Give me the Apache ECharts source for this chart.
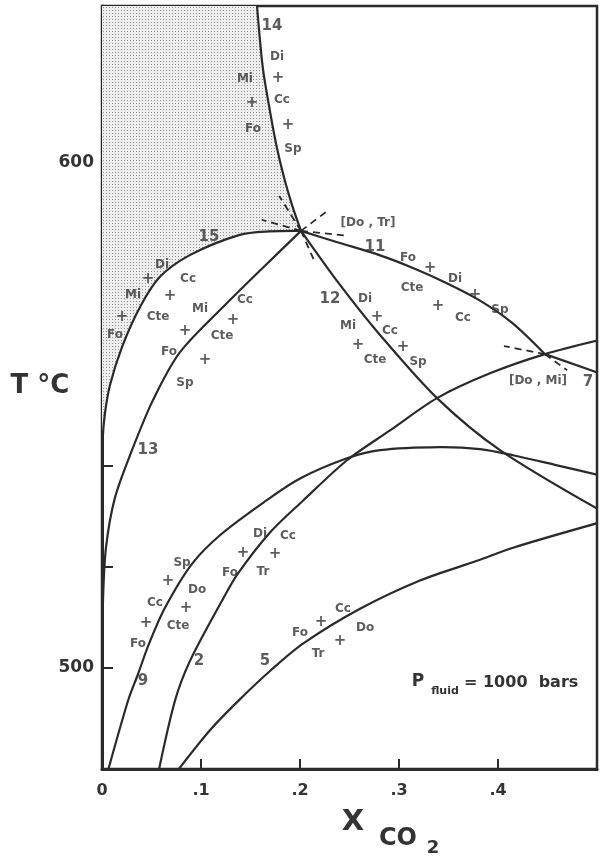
<!DOCTYPE html>
<html><head><meta charset="utf-8">
<script src="https://cdn.jsdelivr.net/npm/echarts@6/dist/echarts.min.js"></script>
<style>html,body{margin:0;padding:0;background:#fff}#c{width:607px;height:856px}</style>
</head><body><div id="c"></div>
<script>
// ---- data (x = mole fraction CO2, T = °C) ----
const xTickLabels = ['0', '.1', '.2', '.3', '.4'];
const yTickLabels = { 500: '500', 600: '600' };
const I1 = [0.201, 586.5];   // [Do,Tr]
const I2 = [0.4475, 562.1];  // [Do,Mi]
const curve14 = [[0.1563, 631.7], [0.1623, 619.0], [0.1694, 610.5], [0.1764, 603.2], [0.1845, 596.6], [0.1925, 591.3], I1];
const curve15 = [I1, [0.1694, 586.4], [0.1391, 585.7], [0.0887, 581.7], [0.0585, 577.4], [0.0383, 571.4], [0.0202, 563.5], [0.0081, 556.0], [0.0030, 550.4], [0.0006, 545.0], [0.0002, 538.0]];
const curve13 = [I1, [0.1646, 579.6], [0.1293, 572.8], [0.0788, 562.5], [0.0515, 553.0], [0.0303, 543.1], [0.0131, 533.7], [0.0040, 523.8], [0.0010, 513.3], [0.0003, 500.0]];
const curve12 = [I1, [0.2404, 575.8], [0.2808, 565.9], [0.3384, 553.4], [0.4020, 543.1], [0.503, 531.2]];
const curve11 = [I1, [0.2369, 584.3], [0.2802, 581.7], [0.3135, 579.2], [0.3478, 576.2], [0.3810, 572.8], [0.4143, 568.3], I2];
const curve7 = [I2, [0.503, 558.3]];
const curve2 = [[0.0566, 479.0], [0.0737, 493.5], [0.0889, 501.4], [0.1212, 513.3], [0.1374, 518.7], [0.1697, 526.8], [0.2030, 533.1], [0.2475, 541.1], [0.2909, 547.0], [0.3384, 553.4], [0.3919, 558.3], I2, [0.503, 564.9]];
const curve9 = [[0.0051, 479.0], [0.0263, 493.5], [0.0364, 498.8], [0.0475, 504.8], [0.0636, 511.9], [0.0909, 520.6], [0.1212, 526.6], [0.1657, 533.1], [0.2000, 537.5], [0.2475, 541.5], [0.2808, 543.1], [0.3414, 543.7], [0.3818, 543.3], [0.4152, 542.1], [0.4596, 540.1], [0.503, 538.1]];
const curve5 = [[0.0737, 479.0], [0.1101, 487.9], [0.1414, 494.2], [0.1697, 499.4], [0.2030, 504.8], [0.2606, 511.7], [0.3212, 517.3], [0.3788, 521.2], [0.4152, 523.8], [0.503, 528.8]];
// metastable (dashed) extensions beyond the invariant points
const dashed = [
  [I1, [0.2157, 580.0]],
  [I1, [0.179, 593.4]],
  [I1, [0.228, 590.5]],
  [I1, [0.1613, 588.7]],
  [I1, [0.245, 585.6]],
  [I2, [0.4698, 558.9]],
  [I2, [0.406, 563.7]]
];
// text annotations [x, T, text]
const curveNumbers = [[0.1717, 627.0, '14'], [0.1081, 585.3, '15'], [0.2758, 583.3, '11'], [0.2303, 573.0, '12'], [0.0465, 543.1, '13'], [0.0414, 497.4, '9'], [0.0980, 501.4, '2'], [0.1646, 501.4, '5'], [0.4909, 556.5, '7']];
const invariantLabels = [[0.2687, 588.1, '[Do , Tr]'], [0.4404, 556.9, '[Do , Mi]']];
const minerals = [
  [0.1768, 621.0, 'Di'], [0.1444, 616.5, 'Mi'], [0.1818, 612.5, 'Cc'], [0.1525, 606.7, 'Fo'], [0.1929, 602.8, 'Sp'],
  [0.3091, 581.2, 'Fo'], [0.3566, 577.0, 'Di'], [0.4020, 570.8, 'Sp'], [0.3131, 575.2, 'Cte'], [0.3646, 569.2, 'Cc'],
  [0.2657, 573.0, 'Di'], [0.2909, 566.7, 'Cc'], [0.3192, 560.5, 'Sp'], [0.2485, 567.7, 'Mi'], [0.2758, 560.9, 'Cte'],
  [0.0606, 579.8, 'Di'], [0.0869, 577.0, 'Cc'], [0.0313, 573.8, 'Mi'], [0.0566, 569.4, 'Cte'], [0.0131, 565.9, 'Fo'],
  [0.0990, 571.0, 'Mi'], [0.1444, 572.8, 'Cc'], [0.1212, 565.7, 'Cte'], [0.0677, 562.5, 'Fo'], [0.0838, 556.5, 'Sp'],
  [0.0808, 520.8, 'Sp'], [0.0960, 515.5, 'Do'], [0.0535, 512.9, 'Cc'], [0.0768, 508.3, 'Cte'], [0.0364, 504.8, 'Fo'],
  [0.1596, 526.6, 'Di'], [0.1879, 526.2, 'Cc'], [0.1293, 518.8, 'Fo'], [0.1626, 519.0, 'Tr'],
  [0.2000, 506.9, 'Fo'], [0.2434, 511.7, 'Cc'], [0.2182, 502.8, 'Tr'], [0.2657, 507.9, 'Do']
];
const plusSigns = [
  [0.1778, 616.7], [0.1515, 611.7], [0.1879, 607.5],
  [0.3313, 579.2], [0.3768, 573.8], [0.3394, 571.6],
  [0.2778, 569.4], [0.3040, 563.5], [0.2586, 563.9],
  [0.0465, 577.0], [0.0687, 573.6], [0.0202, 569.4],
  [0.1323, 568.8], [0.0838, 566.7], [0.1040, 560.9],
  [0.0667, 517.1], [0.0848, 511.9], [0.0444, 508.9],
  [0.1424, 522.8], [0.1747, 522.6],
  [0.2212, 509.1], [0.2404, 505.4]
];

// ---- rendering ----
const FONT = 'DejaVu Sans';
const INK = '#2a2a2a';
const TXT = '#333333';

function stipple() {
  const c = document.createElement('canvas');
  c.width = 3; c.height = 3;
  const g = c.getContext('2d');
  g.fillStyle = '#eeeeee'; g.fillRect(0, 0, 3, 3);
  g.fillStyle = '#8f8f8f'; g.fillRect(1, 1, 1, 1);
  return c;
}
const shadePoly = [[0, 632]].concat(curve14, curve15.slice(1), [[0, 538]]);

function curveSeries(data, isDashed) {
  return {
    type: 'custom', silent: true, clip: true, z: 3, data: [0],
    renderItem: function (params, api) {
      return {
        type: 'polyline',
        shape: { points: data.map(p => api.coord(p)), smooth: isDashed ? 0 : 0.3 },
        style: isDashed ? { stroke: INK, lineWidth: 1.8, lineDash: [7, 5], fill: null }
                        : { stroke: INK, lineWidth: 2.2, fill: null }
      };
    }
  };
}
function textSeries(items, size) {
  return {
    type: 'scatter', symbolSize: 1, silent: true, z: 5,
    itemStyle: { color: 'rgba(0,0,0,0)' },
    data: items.map(d => ({ value: [d[0], d[1]], name: d[2] })),
    label: { show: true, position: 'inside', formatter: '{b}', fontFamily: FONT, fontWeight: 'bold', fontSize: size, color: TXT }
  };
}

const chart = echarts.init(document.getElementById('c'), null, { renderer: 'canvas' });
const series = [
  {
    type: 'custom', silent: true, clip: true, z: 1,
    data: [0],
    renderItem: function (params, api) {
      return { type: 'polygon', shape: { points: shadePoly.map(p => api.coord(p)) },
        style: { fill: { image: stipple(), repeat: 'repeat' }, stroke: null } };
    }
  }
];
[curve14, curve15, curve13, curve12, curve11, curve7, curve2, curve9, curve5].forEach(c => series.push(curveSeries(c, false)));
dashed.forEach(d => series.push(curveSeries(d, true)));
series.push(textSeries(minerals, 12));
series.push(textSeries(curveNumbers, 15));
series.push(textSeries(invariantLabels, 12));
series.push(textSeries(plusSigns.map(p => [p[0], p[1], '+']), 15));

chart.setOption({
  backgroundColor: '#ffffff',
  animation: false,
  grid: { left: 102, top: 6, width: 495, height: 763, show: true, borderColor: INK, borderWidth: 2.5, backgroundColor: 'transparent' },
  xAxis: {
    type: 'value', min: 0, max: 0.5, interval: 0.1,
    axisLine: { show: true, lineStyle: { color: INK, width: 3 } },
    axisTick: { show: true, inside: true, length: 10, lineStyle: { color: INK, width: 2 } },
    axisLabel: { margin: 14, fontFamily: FONT, fontWeight: 'bold', fontSize: 16, color: TXT,
      formatter: v => { const i = Math.round(v * 10); return i < xTickLabels.length ? xTickLabels[i] : ''; } },
    splitLine: { show: false }
  },
  yAxis: {
    type: 'value', min: 480, max: 631, interval: 20,
    axisLine: { show: true, lineStyle: { color: INK, width: 3 } },
    axisTick: { show: true, inside: true, length: 11, lineStyle: { color: INK, width: 2 } },
    axisLabel: { margin: 8, fontFamily: FONT, fontWeight: 'bold', fontSize: 17, color: TXT, showMaxLabel: false,
      formatter: v => yTickLabels[Math.round(v)] || '' },
    splitLine: { show: false }
  },
  graphic: [
    { type: 'text', x: 40, y: 386, style: { text: 'T °C', font: 'bold 26px "DejaVu Sans"', fill: TXT, textAlign: 'center', textVerticalAlign: 'middle' } },
    { type: 'text', x: 353, y: 822, style: { text: 'X', font: 'bold 29px "DejaVu Sans"', fill: TXT, textAlign: 'center', textVerticalAlign: 'middle' } },
    { type: 'text', x: 398, y: 839, style: { text: 'CO', font: 'bold 24px "DejaVu Sans"', fill: TXT, textAlign: 'center', textVerticalAlign: 'middle' } },
    { type: 'text', x: 433, y: 848, style: { text: '2', font: 'bold 18px "DejaVu Sans"', fill: TXT, textAlign: 'center', textVerticalAlign: 'middle' } },
    { type: 'text', x: 418, y: 682, style: { text: 'P', font: 'bold 17px "DejaVu Sans"', fill: TXT, textAlign: 'center', textVerticalAlign: 'middle' } },
    { type: 'text', x: 445, y: 691, style: { text: 'fluid', font: 'bold 11px "DejaVu Sans"', fill: TXT, textAlign: 'center', textVerticalAlign: 'middle' } },
    { type: 'text', x: 464, y: 683, style: { text: '= 1000  bars', font: 'bold 16px "DejaVu Sans"', fill: TXT, textAlign: 'left', textVerticalAlign: 'middle' } }
  ],
  series: series
});
</script></body></html>
